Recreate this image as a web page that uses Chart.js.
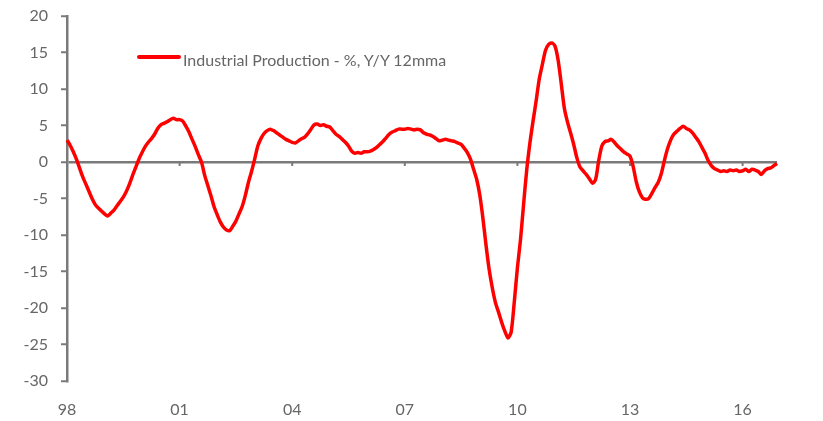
<!DOCTYPE html>
<html>
<head>
<meta charset="utf-8">
<script src="https://cdn.jsdelivr.net/npm/chart.js@4"></script>
<style>
  html, body { margin: 0; padding: 0; background: #fff; }
  #wrap { position: relative; width: 823px; height: 421px; overflow: hidden; }
  #c { display: block; }
  #legLine { position: absolute; left: 137px; top: 55px; width: 44px; height: 4px; background: #ff0000; border-radius: 2px; }
  #legText { position: absolute; left: 183px; top: 50px; font: 16px Lato, "Open Sans", sans-serif; line-height: 19px; color: #666; white-space: nowrap; }
</style>
</head>
<body>
<div id="wrap">
  <canvas id="c" width="823" height="421"></canvas>
  <div id="legLine"></div>
  <div id="legText">Industrial Production - %, Y/Y 12mma</div>
</div>
<script>
// Monthly series, Jan 1998 .. Dec 2016
const startYear = 1998;
const seriesName = 'Industrial Production - %, Y/Y 12mma';
const ipYoY = [
  3.0, 2.3, 1.4, 0.4, -0.8, -2.0, -3.0, -4.0, -5.0, -5.8, -6.3, -6.7,          // 1998
  -7.1, -7.4, -7.0, -6.6, -6.0, -5.4, -4.8, -4.0, -3.0, -1.8, -0.7, 0.4,       // 1999
  1.3, 2.1, 2.7, 3.2, 3.8, 4.6, 5.1, 5.3, 5.5, 5.8, 6.0, 5.8,                  // 2000
  5.8, 5.6, 4.9, 4.1, 3.1, 2.1, 1.0, 0.0, -1.8, -3.2, -4.6, -6.1,              // 2001
  -7.2, -8.2, -8.9, -9.3, -9.4, -8.8, -8.1, -7.1, -6.1, -4.6, -2.8, -1.3,      // 2002
  0.4, 2.2, 3.2, 3.9, 4.3, 4.5, 4.3, 4.0, 3.7, 3.4, 3.1, 2.9,                  // 2003
  2.7, 2.6, 2.9, 3.2, 3.4, 3.9, 4.5, 5.1, 5.2, 5.0, 5.1, 4.9,                  // 2004
  4.8, 4.3, 3.8, 3.5, 3.1, 2.7, 2.2, 1.5, 1.2, 1.3, 1.2, 1.4,                  // 2005
  1.4, 1.5, 1.7, 2.0, 2.4, 2.8, 3.3, 3.8, 4.1, 4.3, 4.5, 4.5,                  // 2006
  4.5, 4.6, 4.5, 4.4, 4.5, 4.4, 4.0, 3.8, 3.7, 3.5, 3.2, 2.9,                  // 2007
  3.0, 3.1, 3.0, 2.9, 2.8, 2.6, 2.4, 1.9, 1.3, 0.4, -1.0, -2.4,                // 2008
  -4.6, -7.8, -11.5, -14.8, -17.3, -19.3, -20.6, -22.0, -23.2, -24.1, -23.3, -19.2, // 2009
  -14.5, -10.6, -5.7, -1.0, 2.6, 5.6, 8.4, 11.4, 13.4, 15.3, 16.1, 16.3,       // 2010
  15.9, 14.0, 10.8, 7.4, 5.5, 4.0, 2.4, 0.6, -0.7, -1.2, -1.7, -2.3,           // 2011
  -2.9, -2.4, 0.2, 2.2, 2.8, 2.9, 3.1, 2.7, 2.2, 1.8, 1.4, 1.1,                // 2012
  0.8, -0.6, -2.7, -4.1, -4.9, -5.1, -5.0, -4.3, -3.5, -2.8, -1.6, 0.2,        // 2013
  1.8, 3.0, 3.8, 4.2, 4.6, 4.9, 4.6, 4.4, 4.0, 3.4, 2.8, 2.0,                  // 2014
  1.2, 0.2, -0.5, -0.9, -1.1, -1.3, -1.2, -1.3, -1.1, -1.2, -1.1, -1.3,        // 2015
  -1.2, -1.0, -1.3, -1.0, -1.1, -1.3, -1.7, -1.2, -0.9, -0.8, -0.5, -0.2       // 2016
];
const xTickLabels = ['98', '01', '04', '07', '10', '13', '16'];
const yMin = -30, yMax = 20, yStep = 5;

// month categories
const categories = ipYoY.map((_, i) => {
  const y = startYear + Math.floor(i / 12);
  const m = (i % 12) + 1;
  return y + '-' + String(m).padStart(2, '0');
});
function shortLabel(cat) {
  const [y, m] = cat.split('-');
  if (m !== '01') return null;
  const yy = y.slice(2);
  return xTickLabels.includes(yy) ? yy : null;
}

const zeroTicks = {
  id: 'zeroTicks',
  beforeDatasetsDraw(chart) {
    const x = chart.scales.x, y = chart.scales.y;
    const y0 = y.getPixelForValue(0);
    const ctx = chart.ctx;
    ctx.save();
    ctx.strokeStyle = '#7a7a7a';
    ctx.lineWidth = 2;
    categories.forEach((c, i) => {
      if (shortLabel(c) !== null) {
        const px = x.getPixelForValue(i);
        ctx.beginPath();
        ctx.moveTo(px, y0);
        ctx.lineTo(px, y0 + 4);
        ctx.stroke();
      }
    });
    ctx.restore();
  }
};

Chart.defaults.font.family = 'Lato, "Open Sans", sans-serif';
Chart.defaults.font.size = 16;
Chart.defaults.color = '#666';

const TARGET_TOP = 16;
function config() {
  return {
    type: 'line',
    data: {
      labels: categories,
      datasets: [{
        label: seriesName,
        data: ipYoY,
        borderColor: '#ff0000',
        borderWidth: 3.5,
        pointRadius: 0,
        tension: 0.25,
        fill: false
      }]
    },
    options: {
      responsive: false,
      animation: false,
      devicePixelRatio: 1,
      layout: { padding: { top: TARGET_TOP, right: 46, bottom: 0, left: 0 } },
      plugins: { legend: { display: false }, tooltip: { enabled: false } },
      scales: {
        x: {
          type: 'category',
          offset: false,
          border: { display: false },
          grid: { display: false, drawTicks: false },
          ticks: {
            autoSkip: false,
            maxRotation: 0,
            padding: 19,
            color: '#666',
            callback: (v, i) => shortLabel(categories[i])
          },
          afterFit: (s) => { s.height = 40; s.paddingLeft = 0; s.paddingRight = 0; }
        },
        y: {
          min: yMin,
          max: yMax,
          border: { display: true, color: '#7a7a7a', width: 2.5 },
          grid: {
            color: (ctx) => ctx.tick && ctx.tick.value === 0 ? '#7a7a7a' : 'rgba(0,0,0,0)',
            lineWidth: 2.5,
            tickColor: '#7a7a7a',
            tickWidth: 2,
            tickLength: 6,
            drawTicks: true
          },
          ticks: { stepSize: yStep, padding: 13, color: '#666' },
          afterFit: (s) => { s.width = 67; s.paddingTop = 0; s.paddingBottom = 0; }
        }
      }
    },
    plugins: [zeroTicks]
  };
}

const canvas = document.getElementById('c');
let chart = new Chart(canvas, config());
// keep the plot area at the reference position if the layout added extra top space
const extra = chart.chartArea.top - TARGET_TOP;
if (extra > 0.5) {
  chart.destroy();
  canvas.width = 823;
  canvas.height = Math.round(421 + extra);
  canvas.style.marginTop = (-Math.round(extra)) + 'px';
  chart = new Chart(canvas, config());
}
</script>
</body>
</html>
